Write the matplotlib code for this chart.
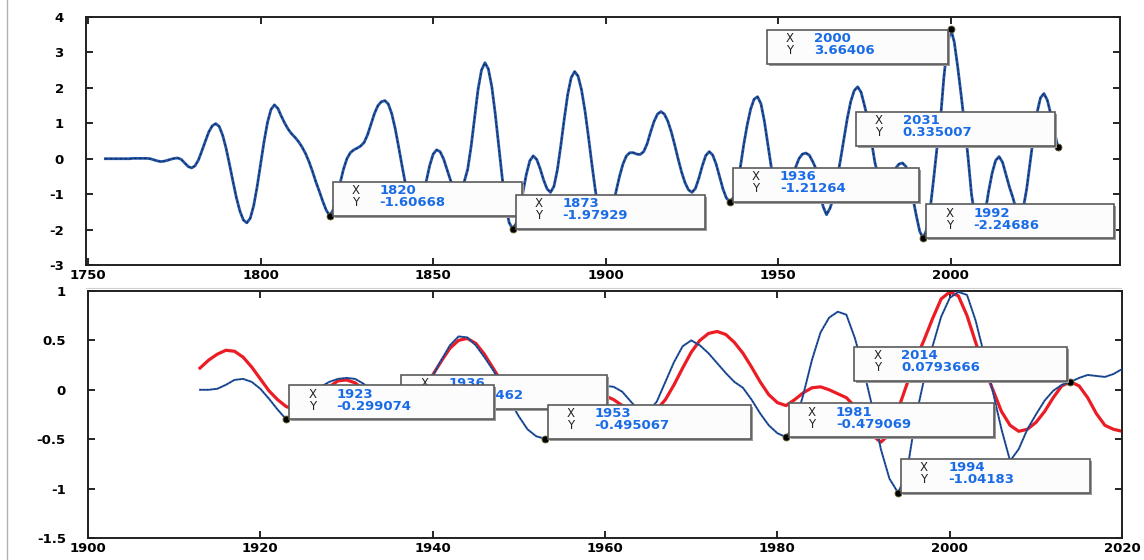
import matplotlib
matplotlib.use("Agg")
import matplotlib.pyplot as plt
from matplotlib.patches import Rectangle
from matplotlib.lines import Line2D
from matplotlib.transforms import IdentityTransform

# ---- data: upper panel (annual, 1755-2031) ----
top_years = list(range(1755, 2032))
top_vals = [
    0.00, 0.00, 0.00, 0.00, 0.00, 0.00, 0.00, 0.00, 0.01, 0.01,
    0.01, 0.01, 0.01, 0.00, -0.03, -0.06, -0.08, -0.07, -0.045, -0.015,
    0.01, 0.02, -0.02, -0.12, -0.22, -0.26, -0.20, -0.03, 0.23, 0.50,
    0.76, 0.93, 0.99, 0.91, 0.66, 0.29, -0.17, -0.65, -1.11, -1.48,
    -1.73, -1.81, -1.68, -1.32, -0.78, -0.15, 0.49, 1.03, 1.39, 1.52,
    1.42, 1.20, 1.00, 0.83, 0.70, 0.60, 0.48, 0.33, 0.15, -0.08,
    -0.35, -0.65, -0.92, -1.20, -1.45, -1.60668, -1.45, -1.10, -0.70, -0.30,
    0.00, 0.17, 0.25, 0.30, 0.36, 0.46, 0.68, 0.98, 1.28, 1.50,
    1.61, 1.64, 1.545, 1.27, 0.85, 0.33, -0.21, -0.73, -1.15, -1.43,
    -1.52, -1.40, -1.08, -0.64, -0.19, 0.13, 0.25, 0.20, 0.00, -0.30,
    -0.60, -0.85, -0.95, -0.85, -0.65, -0.30, 0.35, 1.15, 1.95, 2.50,
    2.71, 2.53, 2.03, 1.26, 0.37, -0.53, -1.29, -1.80, -1.97929, -1.84,
    -1.46, -0.95, -0.44, -0.06, 0.08, -0.02, -0.28, -0.60, -0.85, -0.95,
    -0.78, -0.31, 0.38, 1.13, 1.82, 2.29, 2.46, 2.33, 1.94, 1.35,
    0.62, -0.16, -0.89, -1.48, -1.87, -2.00, -1.80, -1.35, -0.93, -0.50,
    -0.15, 0.08, 0.17, 0.17, 0.13, 0.12, 0.20, 0.42, 0.75, 1.05,
    1.26, 1.33, 1.26, 1.06, 0.76, 0.39, -0.01, -0.38, -0.68, -0.88,
    -0.95, -0.84, -0.55, -0.20, 0.09, 0.20, 0.105, -0.15, -0.505, -0.86,
    -1.115, -1.21264, -1.10, -0.78, -0.25, 0.40, 0.95, 1.40, 1.68, 1.75,
    1.55, 1.05, 0.40, -0.25, -0.70, -0.90, -0.98, -0.90, -0.65, -0.42,
    -0.25, 0.00, 0.13, 0.16, 0.10, -0.08, -0.30, -0.85, -1.35, -1.58,
    -1.40, -1.10, -0.60, -0.05, 0.54, 1.13, 1.61, 1.92, 2.03, 1.88,
    1.50, 1.10, 0.50, -0.10, -0.50, -0.72, -0.80, -0.72, -0.50, -0.27,
    -0.15, -0.12, -0.22, -0.50, -1.10, -1.60, -2.05, -2.24686, -2.00, -1.45,
    -0.60, 0.30, 1.10, 2.30, 3.20, 3.66406, 3.30, 2.60, 1.80, 0.95,
    0.05, -1.00, -1.65, -1.95, -1.90, -1.50, -0.90, -0.40, -0.05, 0.06,
    -0.10, -0.45, -0.80, -1.10, -1.45, -1.60, -1.40, -0.85, -0.10, 0.65,
    1.30, 1.72, 1.84, 1.65, 1.25, 0.80, 0.335007,
]

# ---- data: lower panel (annual, 1913-2020) ----
low_years = list(range(1913, 2021))
low_blue = [
    0.00, 0.00, 0.01, 0.05, 0.10, 0.11, 0.08, 0.01, -0.09, -0.20,
    -0.299074, -0.25, -0.15, -0.05, 0.03, 0.08, 0.11, 0.12, 0.11, 0.06,
    -0.02, -0.10, -0.17, -0.192462, -0.15, -0.06, 0.02, 0.14, 0.30, 0.45,
    0.54, 0.53, 0.45, 0.33, 0.20, 0.05, -0.12, -0.27, -0.40, -0.47,
    -0.495067, -0.45, -0.33, -0.18, -0.06, 0.01, 0.04, 0.04, 0.03, -0.02,
    -0.12, -0.22, -0.22, -0.12, 0.08, 0.28, 0.44, 0.50, 0.45, 0.37,
    0.27, 0.17, 0.08, 0.02, -0.10, -0.24, -0.36, -0.44, -0.479069, -0.35,
    -0.05, 0.30, 0.58, 0.73, 0.79, 0.76, 0.52, 0.20, -0.17, -0.60,
    -0.90, -1.04183, -0.85, -0.30, 0.10, 0.44, 0.74, 0.93, 0.99, 0.96,
    0.70, 0.35, -0.02, -0.40, -0.72, -0.60, -0.40, -0.25, -0.11, -0.01,
    0.05, 0.0793666, 0.12, 0.15, 0.14, 0.13, 0.16, 0.21,
]
low_red = [
    0.22, 0.30, 0.36, 0.40, 0.39, 0.33, 0.23, 0.11, -0.01, -0.10,
    -0.17, -0.20, -0.19, -0.13, -0.05, 0.03, 0.09, 0.10, 0.07, 0.00,
    -0.08, -0.14, -0.16, -0.14, -0.08, 0.00, 0.08, 0.15, 0.29, 0.42,
    0.50, 0.52, 0.47, 0.36, 0.22, 0.08, -0.03, -0.10, -0.13, -0.12,
    -0.08, -0.04, -0.01, 0.00, 0.00, -0.01, -0.03, -0.06, -0.10, -0.16,
    -0.21, -0.23, -0.22, -0.20, -0.10, 0.05, 0.22, 0.38, 0.50, 0.57,
    0.59, 0.56, 0.48, 0.37, 0.23, 0.08, -0.05, -0.13, -0.16, -0.10,
    -0.03, 0.02, 0.03, 0.00, -0.04, -0.08, -0.17, -0.32, -0.46, -0.53,
    -0.45, -0.20, 0.05, 0.30, 0.50, 0.72, 0.92, 0.99, 0.95, 0.75,
    0.48, 0.22, 0.00, -0.22, -0.36, -0.42, -0.40, -0.33, -0.22, -0.08,
    0.04, 0.0793666, 0.04, -0.08, -0.24, -0.36, -0.40, -0.42,
]

# data tips (drawn in this order, later ones on top)
top_tip_x = [1820, 1873, 1936, 2000, 2031, 1992]
top_tip_y = [-1.60668, -1.97929, -1.21264, 3.66406, 0.335007, -2.24686]
low_tip_x = [1936, 1923, 1953, 1981, 2014, 1994]
low_tip_y = [-0.192462, -0.299074, -0.495067, -0.479069, 0.0793666, -1.04183]

top_xticks = [1750, 1800, 1850, 1900, 1950, 2000]
top_yticks = [-3, -2, -1, 0, 1, 2, 3, 4]
low_xticks = [1900, 1920, 1940, 1960, 1980, 2000, 2020]
low_yticks = [-1.5, -1, -0.5, 0, 0.5, 1]

# tip box layout (corner of the box touching the point, width in px)
top_tip_corner = ["bl", "bl", "bl", "tr", "br", "bl"]
top_tip_width = [189, 189, 186, 181, 199, 188]
low_tip_corner = ["bl", "bl", "bl", "bl", "br", "bl"]
low_tip_width = [206, 205, 203, 205, 213, 189]

BLUE = "#2354a3"
RED = "#ec1c24"
TIPBLUE = "#1a6be6"

fig = plt.figure(figsize=(11.44, 5.6), dpi=100)
ax1 = fig.add_axes([0.0752, 0.5268, 0.904, 0.4428])
ax2 = fig.add_axes([0.0769, 0.0393, 0.904, 0.4411])


def style_axes(ax, xlim, ylim, xticks, yticks, ylabels):
    ax.set_xlim(*xlim)
    ax.set_ylim(*ylim)
    ax.set_xticks(xticks)
    ax.set_xticklabels([str(t) for t in xticks])
    ax.set_yticks(yticks)
    ax.set_yticklabels(ylabels)
    ax.tick_params(direction="in", length=5, width=1.2, top=True, right=True,
                   labelsize=9.5, pad=3)
    ax.tick_params(axis="y", pad=16)
    for lab in ax.get_xticklabels() + ax.get_yticklabels():
        lab.set_fontweight("bold")
    for sp in ax.spines.values():
        sp.set_linewidth(1.4)
        sp.set_color("#202020")


ax1.plot(top_years, top_vals, color=BLUE, lw=2.0, zorder=2)
ax1.plot(top_years, top_vals, color="#0b1d45", lw=0.7, dashes=(2, 3), zorder=2)
style_axes(ax1, (1749.4, 2049.1), (-3, 4), top_xticks, top_yticks,
           [str(t) for t in top_yticks])

ax2.plot(low_years, low_red, color=RED, lw=2.3, zorder=2)
ax2.plot(low_years, low_blue, color=BLUE, lw=1.4, zorder=3)
ax2.plot(low_years, low_blue, color="#0b1d45", lw=0.5, dashes=(2, 3), zorder=3)
style_axes(ax2, (1900, 2020), (-1.5, 1), low_xticks, low_yticks,
           ["-1.5", "-1", "-0.5", "0", "0.5", "1"])

ident = IdentityTransform()


def add_tip(ax, x, y, corner, w, z):
    ax.plot([x], [y], "o", color="black", ms=5, mec="#6b6230", mew=0.6,
            zorder=6, clip_on=False)
    px, py = ax.transData.transform((x, y))
    h = 34
    if corner == "bl":
        left, bottom = px + 3, py
    elif corner == "br":
        left, bottom = px - 3 - w, py + 1
    else:
        left, bottom = px - 3 - w, py - 1 - h
    top = bottom + h
    fig.add_artist(Rectangle((left + 2, bottom - 2), w, h, transform=ident,
                             fc="#9a9a9a", ec="none", zorder=z))
    fig.add_artist(Rectangle((left, bottom), w, h, transform=ident,
                             fc="#fcfcfc", ec="#5a5a5a", lw=1.2, zorder=z + 0.1))
    fig.text(left + 23, top - 9, "X", transform=ident, ha="center", va="center",
             fontsize=8.5, color="#222222", zorder=z + 0.2)
    fig.text(left + 23, top - 21, "Y", transform=ident, ha="center", va="center",
             fontsize=8.5, color="#222222", zorder=z + 0.2)
    fig.text(left + 47, top - 9, str(x), transform=ident, ha="left", va="center",
             fontsize=9.5, fontweight="bold", color=TIPBLUE, zorder=z + 0.2)
    fig.text(left + 47, top - 21, str(y), transform=ident, ha="left", va="center",
             fontsize=9.5, fontweight="bold", color=TIPBLUE, zorder=z + 0.2)


for i in range(len(top_tip_x)):
    add_tip(ax1, top_tip_x[i], top_tip_y[i], top_tip_corner[i], top_tip_width[i], 10 + i)
for i in range(len(low_tip_x)):
    add_tip(ax2, low_tip_x[i], low_tip_y[i], low_tip_corner[i], low_tip_width[i], 20 + i)

# thin grey frame lines of the original window
fig.add_artist(Line2D([0.006, 0.006], [0.0, 1.0], color="#b0b0b0", lw=1.0))
fig.add_artist(Line2D([0.075, 0.98], [0.486, 0.486], color="#d0d0d0", lw=0.8))

fig.savefig("out.png", dpi=100)
